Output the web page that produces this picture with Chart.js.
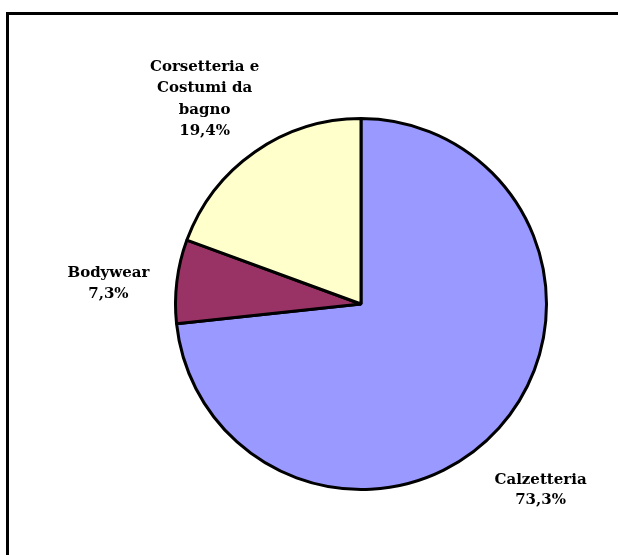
<!DOCTYPE html>
<html>
<head>
<meta charset="utf-8">
<script src="https://cdn.jsdelivr.net/npm/chart.js@4"></script>
<style>
  html, body { margin: 0; padding: 0; background: #fff; }
  #wrap { width: 618px; height: 555px; position: relative; }
</style>
</head>
<body>
<div id="wrap"><canvas id="grafico" width="618" height="555"></canvas></div>
<script>
// dati del grafico
var categorie = ['Calzetteria', 'Bodywear', 'Corsetteria e Costumi da bagno'];
var righeEtichette = [['Calzetteria'], ['Bodywear'], ['Corsetteria e', 'Costumi da', 'bagno']];
var valori = [73.3, 7.3, 19.4];
var colori = ['#9999FF', '#993366', '#FFFFCC'];

// spostamenti delle etichette rispetto alla posizione radiale
var spostamenti = [[-12, 14], [3, 11], [-9, 6]];

var cornice = {
  id: 'cornice',
  beforeDraw: function(chart) {
    var ctx = chart.ctx;
    ctx.save();
    ctx.strokeStyle = '#000';
    ctx.lineWidth = 3;
    ctx.beginPath();
    ctx.moveTo(7.5, 700);
    ctx.lineTo(7.5, 13.5);
    ctx.lineTo(700, 13.5);
    ctx.stroke();
    ctx.restore();
  }
};

var etichette = {
  id: 'etichette',
  afterDraw: function(chart) {
    var ctx = chart.ctx;
    var meta = chart.getDatasetMeta(0);
    ctx.save();
    ctx.fillStyle = '#000';
    ctx.font = 'bold 15px "DejaVu Serif"';
    ctx.textAlign = 'center';
    ctx.textBaseline = 'middle';
    meta.data.forEach(function(arc, i) {
      var p = arc.getProps(['x', 'y', 'startAngle', 'endAngle', 'outerRadius'], true);
      var mid = (p.startAngle + p.endAngle) / 2;
      var d = p.outerRadius + 72;
      var cx = p.x + Math.cos(mid) * d + spostamenti[i][0];
      var cy = p.y + Math.sin(mid) * d + spostamenti[i][1];
      var righe = righeEtichette[i].concat([valori[i].toFixed(1).replace('.', ',') + '%']);
      var lh = righe.length > 2 ? 21.5 : 20.5;
      var y0 = cy - (righe.length - 1) * lh / 2;
      righe.forEach(function(r, k) {
        ctx.fillText(r, cx, y0 + k * lh);
      });
    });
    ctx.restore();
  }
};

var contexto = document.getElementById('grafico').getContext('2d');
var myChart = new Chart(contexto, {
  type: 'pie',
  data: {
    labels: categorie,
    datasets: [{
      data: valori,
      backgroundColor: colori,
      borderColor: '#000',
      borderWidth: 3
    }]
  },
  options: {
    responsive: false,
    animation: false,
    layout: { padding: { left: 174, right: 70, top: 117, bottom: 64 } },
    plugins: {
      legend: { display: false },
      tooltip: { enabled: false }
    }
  },
  plugins: [cornice, etichette]
});
</script>
</body>
</html>
